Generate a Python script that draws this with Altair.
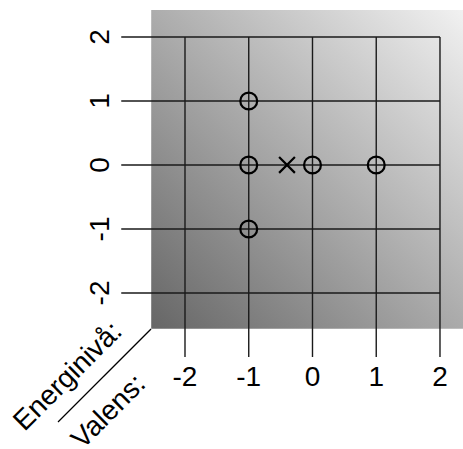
import altair as alt
import pandas as pd

# Grid values shown on both axes
tick_values = [-2, -1, 0, 1, 2]

# Observations (valens, energinivå)
obs_valens = [-1, -1, 0, 1, -1]
obs_energi = [1, 0, 0, 0, -1]

# Mean of the observations
mean_valens = [-0.4]
mean_energi = [0.0]

# Axis captions
caption_energi = "Energinivå:"
caption_valens = "Valens:"

FONT = "Liberation Sans"
FS = 28
W, H = 463, 449

xs = alt.Scale(domain=[-4.902, 2.361], nice=False, zero=False)
ys = alt.Scale(domain=[-4.438, 2.578], nice=False, zero=False)


def X(field, **kw):
    return alt.X(field, type="quantitative", scale=xs, axis=None, **kw)


def Y(field, **kw):
    return alt.Y(field, type="quantitative", scale=ys, axis=None, **kw)


# Shaded background square
bg_df = pd.DataFrame({"x": [-2.53], "x2": [2.5], "y": [-2.56], "y2": [2.42]})
background = alt.Chart(bg_df).mark_rect(
    fill=alt.Gradient(
        gradient="linear",
        stops=[
            alt.GradientStop(color="#666666", offset=0),
            alt.GradientStop(color="#f3f3f3", offset=1),
        ],
        x1=0, y1=1, x2=1, y2=0,
    ),
    clip=True,
).encode(x=X("x"), x2="x2", y=Y("y"), y2="y2")

# Grid lines: horizontal ones reach out to the y labels, vertical ones down to the x labels
h_df = pd.DataFrame({"y": tick_values, "x": [-3.0] * 5, "x2": [2.0] * 5})
v_df = pd.DataFrame({"x": tick_values, "y": [-3.0] * 5, "y2": [2.0] * 5})
h_lines = alt.Chart(h_df).mark_rule(color="#1a1a1a", strokeWidth=1.4).encode(
    x=X("x"), x2="x2", y=Y("y")
)
v_lines = alt.Chart(v_df).mark_rule(color="#1a1a1a", strokeWidth=1.4).encode(
    x=X("x"), y=Y("y"), y2="y2"
)

# Tick labels
ylab_df = pd.DataFrame({"v": tick_values, "x": [-3.31] * 5, "t": [str(t) for t in tick_values]})
xlab_df = pd.DataFrame({"v": tick_values, "y": [-3.336] * 5, "t": [str(t) for t in tick_values]})
y_labels = alt.Chart(ylab_df).mark_text(
    font=FONT, fontSize=FS, angle=270, align="center", baseline="middle", color="black"
).encode(x=X("x"), y=Y("v"), text="t:N")
x_labels = alt.Chart(xlab_df).mark_text(
    font=FONT, fontSize=FS, align="center", baseline="middle", color="black"
).encode(x=X("v"), y=Y("y"), text="t:N")

# Diagonal separator between the two captions
diag_df = pd.DataFrame({"x": [-2.533], "y": [-2.563], "x2": [-3.992], "y2": [-4.016]})
diag = alt.Chart(diag_df).mark_rule(color="black", strokeWidth=1.3).encode(
    x=X("x"), y=Y("y"), x2="x2", y2="y2"
)

cap_df = pd.DataFrame({
    "x": [-3.83, -3.19],
    "y": [-3.31, -3.86],
    "t": [caption_energi, caption_valens],
})
captions = alt.Chart(cap_df).mark_text(
    font=FONT, fontSize=FS, angle=315, align="center", baseline="middle", color="black"
).encode(x=X("x"), y=Y("y"), text="t:N")

# Observation circles and mean cross
obs_df = pd.DataFrame({"valens": obs_valens, "energi": obs_energi})
points = alt.Chart(obs_df).mark_point(
    shape="circle", filled=False, size=285, stroke="black", strokeWidth=2.2, opacity=1
).encode(x=X("valens"), y=Y("energi"))

mean_df = pd.DataFrame({"valens": mean_valens, "energi": mean_energi})
cross = alt.Chart(mean_df).mark_point(
    shape="M -1 -1 L 1 1 M -1 1 L 1 -1", filled=False, size=250,
    stroke="black", strokeWidth=2.2, opacity=1
).encode(x=X("valens"), y=Y("energi"))

chart = alt.layer(
    background, h_lines, v_lines, y_labels, x_labels, diag, captions, points, cross
).properties(
    width=W, height=H, padding=0, autosize=alt.AutoSizeParams(type="none")
).configure_view(stroke=None)

chart.save("out.html", embed_options={"renderer": "svg", "actions": False})
